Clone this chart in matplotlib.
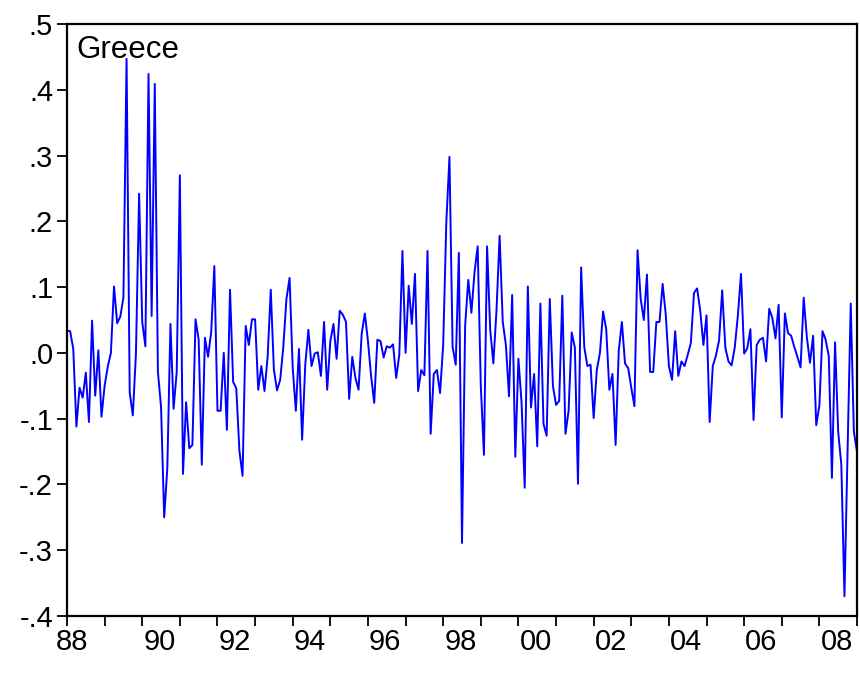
import numpy as np
import matplotlib
matplotlib.use('Agg')
import matplotlib.pyplot as plt
from matplotlib.ticker import FixedLocator, FuncFormatter

plt.rcParams['font.family'] = ['Liberation Sans', 'DejaVu Sans']

# ── Monthly stock returns, Greece (1988m1 onwards) ───────────────────────────
greece = [
    0.034, 0.033, 0.006, -0.112, -0.053, -0.068, -0.030, -0.105, 0.049, -0.065,
    0.004, -0.097, -0.050, -0.021, 0.000, 0.101, 0.045, 0.055, 0.084, 0.447,
    -0.060, -0.095, 0.000, 0.242, 0.047, 0.010, 0.424, 0.056, 0.409, -0.029,
    -0.082, -0.250, -0.175, 0.044, -0.085, -0.029, 0.270, -0.184, -0.075, -0.145,
    -0.140, 0.051, 0.020, -0.170, 0.023, -0.006, 0.032, 0.132, -0.088, -0.088,
    0.000, -0.117, 0.096, -0.044, -0.054, -0.149, -0.187, 0.041, 0.012, 0.051,
    0.051, -0.056, -0.020, -0.058, -0.006, 0.096, -0.026, -0.057, -0.041, 0.009,
    0.082, 0.114, -0.023, -0.088, 0.006, -0.132, -0.018, 0.035, -0.020, -0.001,
    0.001, -0.035, 0.047, -0.056, 0.018, 0.044, -0.009, 0.064, 0.058, 0.047,
    -0.070, -0.006, -0.038, -0.056, 0.029, 0.060, 0.018, -0.035, -0.076, 0.020,
    0.018, -0.007, 0.010, 0.008, 0.013, -0.038, -0.003, 0.155, 0.000, 0.102,
    0.044, 0.120, -0.058, -0.026, -0.034, 0.155, -0.123, -0.032, -0.026, -0.061,
    0.012, 0.199, 0.298, 0.009, -0.018, 0.152, -0.289, 0.041, 0.111, 0.061,
    0.123, 0.162, -0.050, -0.155, 0.162, 0.035, -0.016, 0.064, 0.178, 0.047,
    0.012, -0.066, 0.088, -0.158, -0.009, -0.076, -0.205, 0.101, -0.083, -0.032,
    -0.142, 0.075, -0.108, -0.126, 0.082, -0.050, -0.079, -0.073, 0.087, -0.123,
    -0.088, 0.031, 0.008, -0.199, 0.130, 0.009, -0.020, -0.018, -0.099, -0.026,
    0.000, 0.063, 0.036, -0.056, -0.032, -0.140, 0.003, 0.047, -0.016, -0.023,
    -0.053, -0.081, 0.156, 0.082, 0.050, 0.119, -0.029, -0.029, 0.047, 0.047,
    0.105, 0.058, -0.020, -0.041, 0.033, -0.035, -0.013, -0.020, -0.003, 0.015,
    0.091, 0.098, 0.064, 0.012, 0.057, -0.105, -0.020, -0.004, 0.019, 0.095,
    0.008, -0.013, -0.019, 0.008, 0.057, 0.120, -0.001, 0.007, 0.036, -0.102,
    0.012, 0.020, 0.023, -0.013, 0.067, 0.053, 0.022, 0.073, -0.098, 0.060,
    0.030, 0.026, 0.009, -0.006, -0.022, 0.084, 0.024, -0.015, 0.026, -0.110,
    -0.080, 0.033, 0.020, -0.005, -0.190, 0.016, -0.120, -0.170, -0.370, -0.150,
    0.075, -0.120, -0.150,
]
start_year = 1988
start_month = 1
y_ticks = [0.5, 0.4, 0.3, 0.2, 0.1, 0.0, -0.1, -0.2, -0.3, -0.4]

n = len(greece)
t = np.arange(n)
months = (start_month - 1 + t) % 12
years = start_year + (start_month - 1 + t) // 12
jan_pos = t[months == 0]                      # year boundaries
label_years = [y for y in range(start_year, years[-1] + 1) if y % 2 == 0]
label_pos = [(y - start_year) * 12 - (start_month - 1) + 5.5 for y in label_years]
label_pos[0] = 1.5                            # first label pulled in to the left edge

fig = plt.figure(figsize=(8.6, 6.73), dpi=100)
ax = fig.add_axes([67 / 860, 57 / 673, 790 / 860, 592 / 673])

ax.plot(t, greece, color='#0000ff', lw=1.4)
ax.set_xlim(0, n - 1)
ax.set_ylim(-0.4, 0.5)

ax.yaxis.set_major_locator(FixedLocator(y_ticks))
ax.yaxis.set_major_formatter(FuncFormatter(
    lambda v, p: ('-' if v < -1e-9 else '') + ('%.1f' % abs(v))[1:]))
ax.xaxis.set_major_locator(FixedLocator(jan_pos))
ax.xaxis.set_major_formatter(FuncFormatter(lambda v, p: ''))
ax.xaxis.set_minor_locator(FixedLocator(label_pos))
ax.xaxis.set_minor_formatter(FuncFormatter(
    lambda v, p: '%02d' % (label_years[label_pos.index(v)] % 100)))

ax.tick_params(axis='both', which='major', direction='out', length=7, width=1.3,
               labelsize=21, color='black')
ax.tick_params(axis='x', which='minor', length=0, labelsize=21, pad=9)
ax.tick_params(axis='y', pad=3)
for sp in ax.spines.values():
    sp.set_linewidth(1.6)

ax.text(0.012, 0.982, 'Greece', transform=ax.transAxes, fontsize=22.5,
        ha='left', va='top')

fig.savefig('out.png', dpi=100, facecolor='white')
